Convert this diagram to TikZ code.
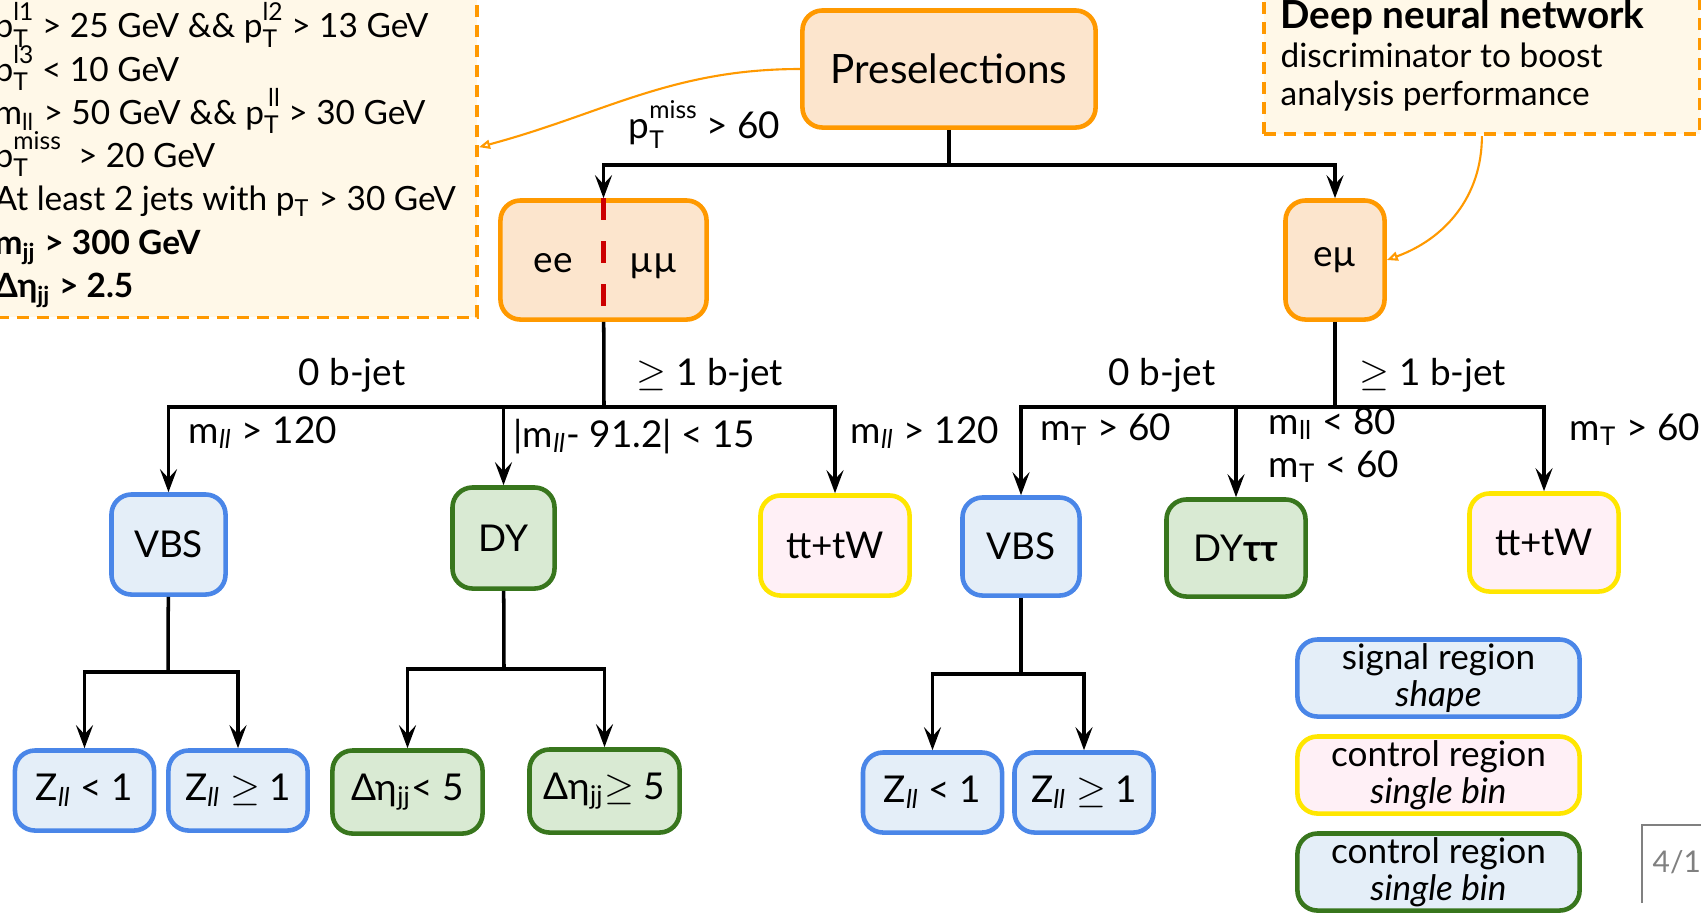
\documentclass[tikz,border=0pt]{standalone}
\usepackage{fontspec}
\setmainfont{Lato}
\usetikzlibrary{arrows.meta,positioning,calc}

\definecolor{orline}{HTML}{FF9900}
\definecolor{orfill}{HTML}{FCE5CD}
\definecolor{blline}{HTML}{4A86E8}
\definecolor{blfill}{HTML}{E4EEF8}
\definecolor{grline}{HTML}{38761D}
\definecolor{grfill}{HTML}{D9EAD3}
\definecolor{ylline}{HTML}{FFE600}
\definecolor{ylfill}{HTML}{FFF0F6}
\definecolor{cream}{HTML}{FFF8E8}
\definecolor{redcut}{HTML}{CC0000}

\newcommand{\lbl}{\fontsize{10.5}{12.6}\selectfont}
\newcommand{\cutfont}{\fontsize{9.5}{12.3}\selectfont}
\newcommand{\pT}[1]{p\rlap{\smash{\raisebox{-0.55ex}{\scriptsize T}}}\smash{\raisebox{1.05ex}{\scriptsize #1}}}
\newcommand{\mll}{m\textsubscript{\itshape ll}}

\begin{document}
\begin{tikzpicture}[x=0.01cm,y=0.01cm,
  box/.style={draw,rounded corners=2mm,line width=1.3pt,inner sep=1pt,align=center,font=\lbl},
  presel/.style={box,draw=orline,fill=orfill},
  sig/.style={box,draw=blline,fill=blfill},
  ctrly/.style={box,draw=ylline,fill=ylfill},
  ctrlg/.style={box,draw=grline,fill=grfill},
  zbox/.style={minimum width=1.39cm,minimum height=0.80cm},
  etabox/.style={minimum width=1.50cm,minimum height=0.83cm},
  legbox/.style={minimum width=2.82cm,minimum height=0.77cm,font=\fontsize{10}{10.5}\selectfont},
  dashbox/.style={draw=orline,fill=cream,line width=1pt,dash pattern=on 1.2mm off 0.8mm},
  conn/.style={line width=1pt},
  note/.style={draw=orline,line width=0.6pt,-{Triangle[open,length=1.1mm,width=0.9mm]}},
  lab/.style={font=\lbl,inner sep=0pt},
  >={Stealth[length=2.3mm,width=1.7mm,inset=0.9mm]}]
  \useasboundingbox (0,0) rectangle (1701,-914);
  % selection notes
  \node[dashbox,minimum width=5.0cm,minimum height=3.4cm,anchor=south east] (cuts) at (479,-319) {};
  \node[font=\cutfont,inner sep=0pt,anchor=north west,align=left] (cutstext) at (-6,-13)
    {\pT{l1} > 25 GeV \&\& \pT{l2} > 13 GeV\\
     \pT{l3} < 10 GeV\\
     m\textsubscript{ll} > 50 GeV \&\& \pT{\,ll} > 30 GeV\\
     \pT{miss}\ \ > 20 GeV\\
     At least 2 jets with p\textsubscript{T} > 30 GeV\\
     \textbf{m\textsubscript{jj} > 300 GeV}\\
     \textbf{Δη\textsubscript{jj} > 2.5}};
  \node[dashbox,minimum width=4.36cm,minimum height=1.6cm,anchor=south west] (dnn) at (1262,-136) {};
  \node[font=\fontsize{9.5}{11}\selectfont,inner sep=0pt,anchor=north west,align=left] (dnntext) at (1280,1)
    {{\fontsize{11}{11}\selectfont\bfseries Deep neural network}\\
     discriminator to boost\\
     analysis performance};
  % channels
  \node[presel,minimum width=2.93cm,minimum height=1.17cm,font=\fontsize{11.5}{14}\selectfont] (pre) at (949,-69) {Preselections};
  \node[presel,minimum width=2.06cm,minimum height=1.19cm] (ll) at (603.5,-260) {};
  \node[lab,anchor=base] (ee) at (553,-272) {ee};
  \node[lab,anchor=base] (mumu) at (653,-272) {µµ};
  \draw[redcut,line width=1.5pt,dash pattern=on 2.2mm off 2.1mm] (ll.north) -- (ll.south);
  \node[presel,minimum width=0.99cm,minimum height=1.19cm] (emu) at (1335,-260) {eµ};
  \coordinate (s0) at (949,-165);
  \draw[conn] (pre) -- (s0);
  \draw[conn,->] (s0) -| (ll);
  \draw[conn,->] (s0) -| (emu);
  \node[lab,anchor=base west] (ptmiss) at (628,-138) {\pT{miss} > 60};
  \draw[note] (pre.west) to[out=180,in=15] (cuts.east);
  \draw[note] (dnn.south) to[out=-90,in=20] (emu.east);
  % same-flavour branch
  \node[sig,minimum width=1.14cm,minimum height=1.00cm] (vbsA) at (168.5,-544.5) {VBS};
  \node[ctrlg,minimum width=1.02cm,minimum height=1.01cm] (dyA) at (503.5,-538) {DY};
  \node[ctrly,minimum width=1.49cm,minimum height=1.00cm] (ttA) at (835,-545.5) {tt+tW};
  \coordinate (s1) at (604,-407);
  \draw[conn] (ll) -- (s1);
  \draw[conn,->] (s1) -| (vbsA);
  \draw[conn,->] (s1) -| (dyA);
  \draw[conn,->] (s1) -| (ttA);
  \node[lab,anchor=base] (nobA) at (352,-385) {0 b-jet};
  \node[lab,anchor=base] (onebA) at (710,-385) {$\geq$ 1 b-jet};
  \node[lab,anchor=base west] (cvbsA) at (188,-443) {\mll{} > 120};
  \node[lab,anchor=base west] (cdyA) at (513,-447) {|\mll{}- 91.2| < 15};
  \node[lab,anchor=base west] (cttA) at (850,-443) {\mll{} > 120};
  % different-flavour branch
  \node[sig,minimum width=1.17cm,minimum height=0.98cm] (vbsB) at (1021,-546.5) {VBS};
  \node[ctrlg,minimum width=1.39cm,minimum height=0.97cm] (dytt) at (1236,-548) {DY\textbf{ττ}};
  \node[ctrly,minimum width=1.49cm,minimum height=0.98cm] (ttB) at (1544,-542.5) {tt+tW};
  \coordinate (s5) at (1335,-407);
  \draw[conn] (emu) -- (s5);
  \draw[conn,->] (s5) -| (vbsB);
  \draw[conn,->] (s5) -| (dytt);
  \draw[conn,->] (s5) -| (ttB);
  \node[lab,anchor=base] (nobB) at (1162,-385) {0 b-jet};
  \node[lab,anchor=base] (onebB) at (1433,-385) {$\geq$ 1 b-jet};
  \node[lab,anchor=base west] (cvbsB) at (1040,-440) {m\textsubscript{T} > 60};
  \node[lab,anchor=base west] (cdyB) at (1268,-434) {m\textsubscript{ll} < 80};
  \node[lab,anchor=base west] (cdyBb) at (1268,-477) {m\textsubscript{T} < 60};
  \node[lab,anchor=base west] (cttB) at (1569,-440) {m\textsubscript{T} > 60};
  % final categories
  \node[sig,zbox] (zA1) at (84.5,-790.5) {Z\textsubscript{\itshape ll} < 1};
  \node[sig,zbox] (zA2) at (238,-790.5) {Z\textsubscript{\itshape ll} $\geq$ 1};
  \node[ctrlg,etabox] (deA1) at (407.5,-792) {Δη\textsubscript{jj}< 5};
  \node[ctrlg,etabox] (deA2) at (604.5,-791) {Δη\textsubscript{jj}$\geq$ 5};
  \node[sig,zbox] (zB1) at (932.5,-792.5) {Z\textsubscript{\itshape ll} < 1};
  \node[sig,zbox] (zB2) at (1084,-792.5) {Z\textsubscript{\itshape ll} $\geq$ 1};
  \coordinate (s2) at (168,-672);
  \coordinate (s3) at (504,-669);
  \coordinate (s4) at (1021,-674);
  \draw[conn] (vbsA) -- (s2);
  \draw[conn,->] (s2) -| (zA1);
  \draw[conn,->] (s2) -| (zA2);
  \draw[conn] (dyA) -- (s3);
  \draw[conn,->] (s3) -| (deA1);
  \draw[conn,->] (s3) -| (deA2);
  \draw[conn] (vbsB) -- (s4);
  \draw[conn,->] (s4) -| (zB1);
  \draw[conn,->] (s4) -| (zB2);
  % legend
  \node[sig,legbox] (legS) at (1438.5,-678) {signal region\\\textit{shape}};
  \node[ctrly,legbox] (legY) at (1438.5,-775) {control region\\\textit{single bin}};
  \node[box,legbox,draw=grline,fill=blfill] (legG) at (1438.5,-872) {control region\\\textit{single bin}};
  % page number
  \node[font=\fontsize{8.5}{10}\selectfont,text=gray,inner sep=0pt,anchor=base west] (pgnum) at (1652,-872) {4/1};
  \draw[gray,line width=0.8pt] (1642,-903) |- (1701,-825);
\end{tikzpicture}
\end{document}
